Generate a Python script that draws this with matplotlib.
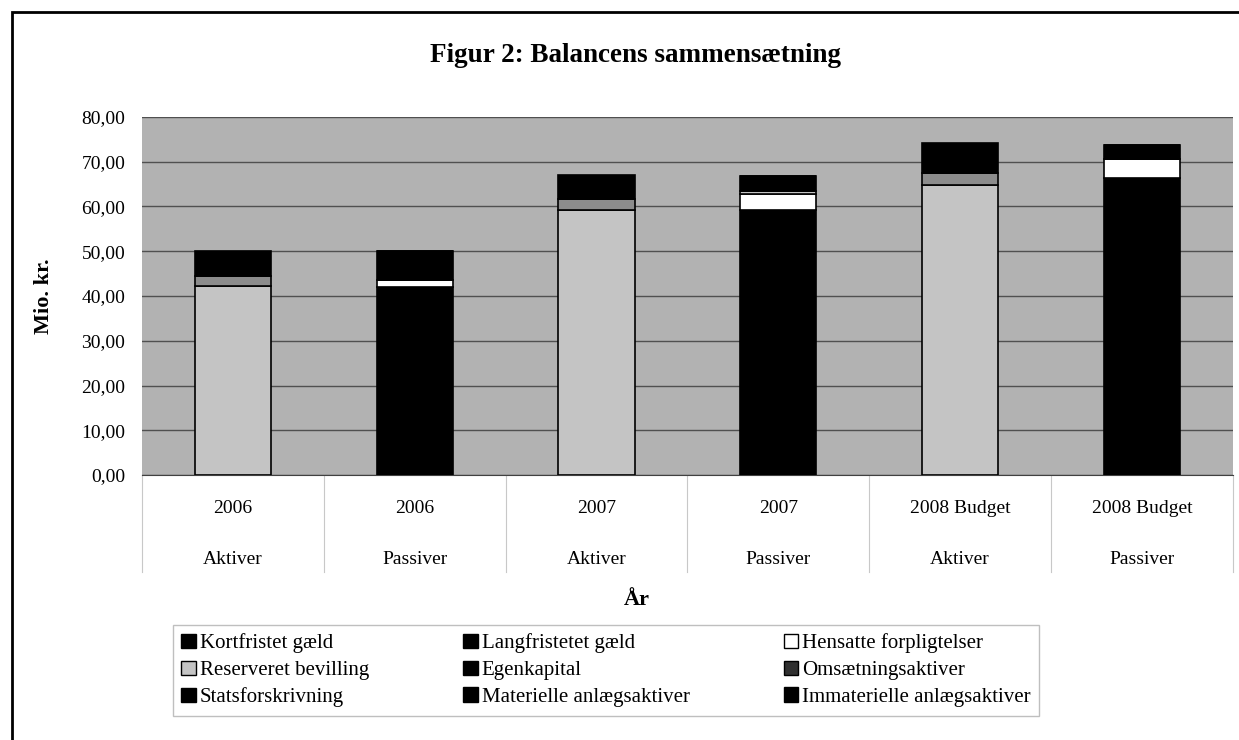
import matplotlib.pyplot as plt
import matplotlib.patches as mpatches
import numpy as np

plt.rcParams['font.family'] = ['Liberation Serif', 'DejaVu Serif']

# Categories (two-line labels: year / side)
years = ['2006', '2006', '2007', '2007', '2008 Budget', '2008 Budget']
sides = ['Aktiver', 'Passiver', 'Aktiver', 'Passiver', 'Aktiver', 'Passiver']

# Series values (mio. kr.)
kortfristet_gaeld = [0, 6.5, 0, 3.4, 0, 3.3]
langfristet_gaeld = [0, 0, 0, 0, 0, 0]
hensatte_forpligtelser = [0, 1.6, 0, 3.7, 0, 4.1]
reserveret_bevilling = [42.2, 0, 59.3, 0.7, 64.9, 0]
egenkapital = [0, 42.0, 0, 59.1, 0, 66.4]
omsaetningsaktiver = [2.2, 0, 2.4, 0, 2.5, 0]
statsforskrivning = [0, 0, 0, 0, 0, 0]
materielle = [5.6, 0, 5.4, 0, 6.7, 0]
immaterielle = [0, 0, 0, 0, 0, 0]

# stacking order, bottom -> top
series = [
    ('Langfristetet gæld', langfristet_gaeld, 'black'),
    ('Statsforskrivning', statsforskrivning, 'black'),
    ('Immaterielle anlægsaktiver', immaterielle, 'black'),
    ('Egenkapital', egenkapital, 'black'),
    ('Hensatte forpligtelser', hensatte_forpligtelser, 'white'),
    ('Reserveret bevilling', reserveret_bevilling, '#c4c4c4'),
    ('Omsætningsaktiver', omsaetningsaktiver, '#8c8c8c'),
    ('Kortfristet gæld', kortfristet_gaeld, 'black'),
    ('Materielle anlægsaktiver', materielle, 'black'),
]

fig = plt.figure(figsize=(12.39, 7.4), dpi=100)
ax = fig.add_axes([0.1146, 0.358, 0.8804, 0.484])
ax.set_facecolor('#b2b2b2')

x = np.arange(len(years))
bottom = np.zeros(len(years))
for name, vals, col in series:
    vals = np.array(vals, dtype=float)
    ax.bar(x, vals, width=0.42, bottom=bottom, color=col,
           edgecolor='black', linewidth=1.2, zorder=3, label=name)
    bottom += vals

ax.set_xlim(-0.5, len(years) - 0.5)
ax.set_ylim(0, 80)
ax.set_yticks(np.arange(0, 81, 10))
ax.set_yticklabels([f'{v},00' for v in range(0, 81, 10)], fontsize=14)
ax.yaxis.grid(True, color='#505050', linewidth=1.0, zorder=1)
ax.tick_params(axis='y', length=0, pad=12)
ax.tick_params(axis='x', length=0, pad=18)
for s in ['top', 'left', 'right']:
    ax.spines[s].set_visible(False)
ax.spines['bottom'].set_color('#404040')

ax.set_xticks(x)
ax.set_xticklabels([f'{a}\n{b}' for a, b in zip(years, sides)],
                   fontsize=14, linespacing=3.6)

# category separators below the plot
trans = ax.get_xaxis_transform()
for xb in np.arange(-0.5, len(years), 1.0):
    ax.plot([xb, xb], [0, -0.272], transform=trans, color='#c8c8c8',
            linewidth=0.8, clip_on=False)

ax.set_ylabel('Mio. kr.', fontsize=16, fontweight='bold', labelpad=20)
fig.text(0.514, 0.189, 'År', fontsize=16, fontweight='bold', ha='center', va='center')
fig.text(0.513, 0.925, 'Figur 2: Balancens sammensætning', fontsize=19.5,
         fontweight='bold', ha='center', va='center')

# legend, laid out row by row like the original
order = ['Kortfristet gæld', 'Reserveret bevilling', 'Statsforskrivning',
         'Langfristetet gæld', 'Egenkapital', 'Materielle anlægsaktiver',
         'Hensatte forpligtelser', 'Omsætningsaktiver', 'Immaterielle anlægsaktiver']
leg_colors = {'Reserveret bevilling': '#c4c4c4', 'Hensatte forpligtelser': 'white',
              'Omsætningsaktiver': '#303030'}
leg_handles = [mpatches.Patch(facecolor=leg_colors.get(n, 'black'), edgecolor='black',
                              linewidth=1.0) for n in order]
fig.legend(leg_handles, order, ncol=3, loc='upper left',
           bbox_to_anchor=(173 / 1239, 1 - 625 / 740), borderaxespad=0,
           fontsize=15, frameon=True, fancybox=False, edgecolor='#b0b0b0',
           handlelength=0.7, handleheight=0.7, handletextpad=0.2,
           columnspacing=4.5, labelspacing=0.35, borderpad=0.4)

# outer frame (cut off at the right and bottom in the scan)
fig.patches.append(mpatches.Rectangle((12 / 1239, -0.05), 1.1, 1 - 12 / 740 + 0.05,
                                      transform=fig.transFigure, fill=False,
                                      edgecolor='black', linewidth=2.0))

fig.savefig('out.png', dpi=100)
